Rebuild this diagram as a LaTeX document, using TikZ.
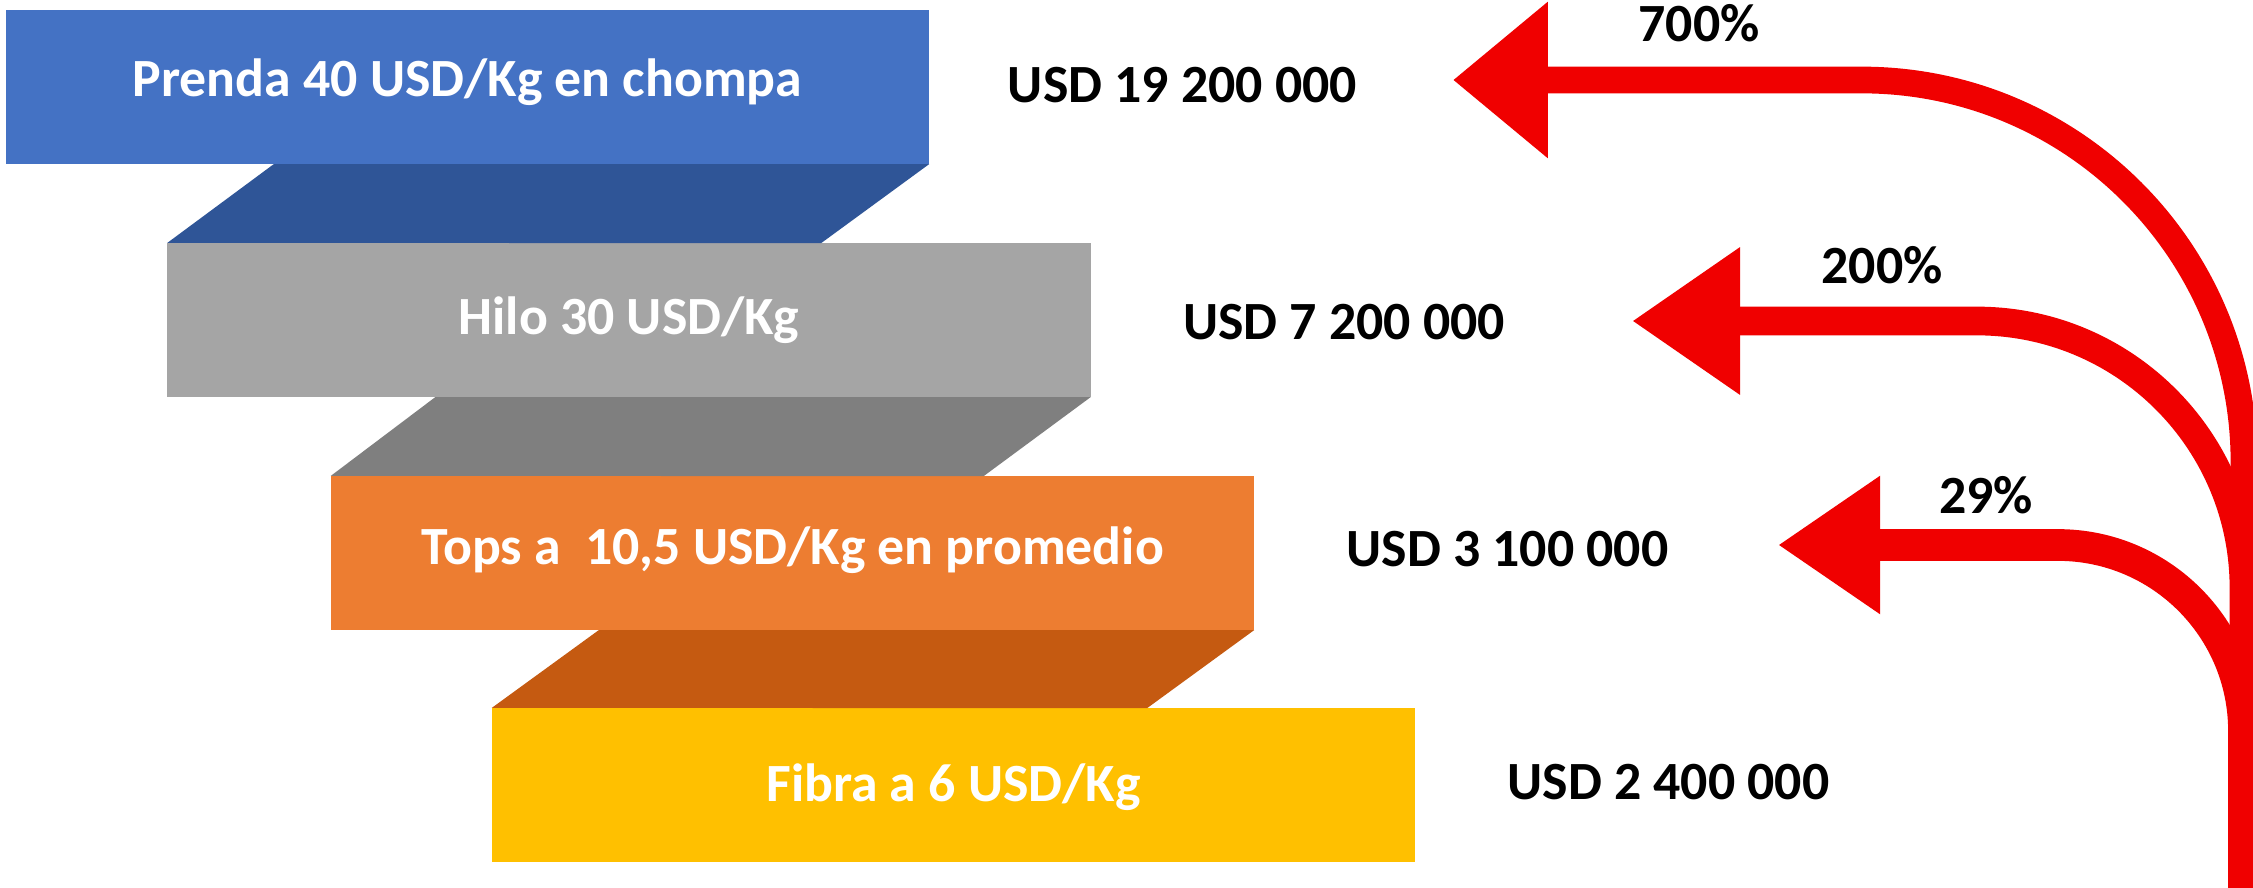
\documentclass[tikz,border=0pt]{standalone}
\usepackage{fontspec}
\setmainfont{Carlito}
\usetikzlibrary{arrows.meta}

\definecolor{prendablue}{HTML}{4472C4}
\definecolor{prendadark}{HTML}{2F5597}
\definecolor{hilogray}{HTML}{A5A5A5}
\definecolor{hilodark}{HTML}{7F7F7F}
\definecolor{topsorange}{HTML}{ED7D31}
\definecolor{topsdark}{HTML}{C55A11}
\definecolor{fibrayellow}{HTML}{FFC000}
\definecolor{arrowred}{HTML}{F00000}

\begin{document}
\begin{tikzpicture}[x=0.01cm, y=-0.01cm,
    stepbox/.style={minimum width=9.23cm, minimum height=1.54cm, inner sep=0pt, outer sep=0pt},
    boxlabel/.style={text=white, font=\bfseries\fontsize{15.3}{18}\selectfont, anchor=base, inner sep=0pt},
    valuelabel/.style={text=black, font=\bfseries\fontsize{15.3}{18}\selectfont, anchor=base, inner sep=0pt},
    growth/.style={draw=arrowred}]
    \useasboundingbox (0,0) rectangle (2253,888);
    \fill[white] (0,0) rectangle (2253,888);

    % Steps of the chain, one box per product
    \node[stepbox, fill=prendablue] (prenda) at (467.5,87) {};
    \node[stepbox, fill=hilogray] (hilo) at (629,320) {};
    \node[stepbox, fill=topsorange] (tops) at (792.5,553) {};
    \node[stepbox, fill=fibrayellow] (fibra) at (953.5,785) {};

    % Slanted folds between the boxes
    \fill[prendadark] ([xshift=2.68cm]prenda.south west) -- (prenda.south east) -- ++(-108,79) -- (hilo.north west) -- cycle;
    \fill[hilodark] ([xshift=2.68cm]hilo.south west) -- (hilo.south east) -- ++(-107,79) -- (tops.north west) -- cycle;
    \fill[topsdark] ([xshift=2.68cm]tops.south west) -- (tops.south east) -- ++(-107,78) -- (fibra.north west) -- cycle;

    % Texts in the boxes
    \node[boxlabel] (prendatxt) at (467.5,97) {Prenda 40 USD/Kg en chompa};
    \node[boxlabel] (hilotxt) at (629,335) {Hilo 30 USD/Kg};
    \node[boxlabel] (topstxt) at (792.5,564) {Tops a\ \ 10,5 USD/Kg en promedio};
    \node[boxlabel] (fibratxt) at (953.5,801) {Fibra a 6 USD/Kg};

    % Values
    \node[valuelabel] (v19) at (1182.5,102.5) {USD 19 200 000};
    \node[valuelabel] (v7) at (1344,340) {USD 7 200 000};
    \node[valuelabel] (v3) at (1507.5,566.5) {USD 3 100 000};
    \node[valuelabel] (v2) at (1668.5,799) {USD 2 400 000};

    % Growth arrows from a common trunk
    \coordinate (root) at (2244,910);
    \coordinate (tip700) at (1453,80);
    \coordinate (tip200) at (1632,321);
    \coordinate (tip29) at (1778,545);
    \draw[growth, line width=0.267cm, rounded corners=3.82cm, -{Triangle[length=0.947cm, width=1.5cm]}] (root) |- (tip700);
    \draw[growth, line width=0.287cm, rounded corners=2.67cm, -{Triangle[length=1.08cm, width=1.4cm]}] (root) |- (tip200);
    \draw[growth, line width=0.317cm, rounded corners=1.86cm, -{Triangle[length=1.02cm, width=1.31cm]}] (root) |- (tip29);

    % Percent labels
    \node[valuelabel] (p700) at (1699,41.7) {700\%};
    \node[valuelabel] (p200) at (1882,283.3) {200\%};
    \node[valuelabel] (p29) at (1986,514) {29\%};
\end{tikzpicture}
\end{document}
